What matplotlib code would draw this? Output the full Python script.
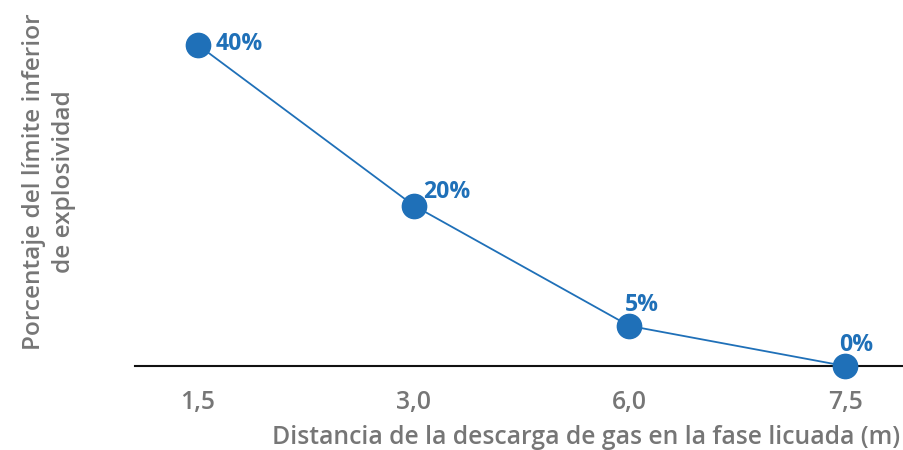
import matplotlib
matplotlib.use("Agg")
import matplotlib.pyplot as plt

categories = ["1,5", "3,0", "6,0", "7,5"]
values = [40, 20, 5, 0]
value_labels = ["40%", "20%", "5%", "0%"]
x_title = "Distancia de la descarga de gas en la fase licuada (m)"
y_title = "Porcentaje del límite inferior\nde explosividad"

plt.rcParams['font.family'] = ['Open Sans', 'DejaVu Sans']

BLUE = "#1f70b8"
GRAY = "#767676"
FS = 17.8

fig = plt.figure(figsize=(9.04, 4.5), dpi=100)
ax = fig.add_axes([135/904, (450-366)/450, (904-135)/904, 366/450])

xs = list(range(len(categories)))
ax.plot(xs, values, color=BLUE, lw=1.3, marker='o', markersize=17.5,
        markerfacecolor=BLUE, markeredgecolor=BLUE, clip_on=False, zorder=3)

offsets = [(13, 0.5, 'left', 'center'), (7, 10, 'left', 'center'),
           (-3, 15, 'left', 'center'), (-4, 15, 'left', 'center')]
for x, v, lab, (dx, dy, ha, va) in zip(xs, values, value_labels, offsets):
    ax.annotate(lab, (x, v), xytext=(dx, dy), textcoords='offset points',
                ha=ha, va=va, color=BLUE, fontsize=16.6, fontweight='bold')

ax.set_xlim(-63/215.67, 3 + 59/215.67)
ax.set_ylim(0, 366/8.025)
ax.set_xticks(xs)
ax.set_xticklabels(categories, color=GRAY, fontsize=FS, fontweight='semibold')
ax.tick_params(axis='x', length=0, pad=17)
ax.set_yticks([])
for s in ['top', 'right', 'left']:
    ax.spines[s].set_visible(False)
ax.spines['bottom'].set_color('#111111')
ax.spines['bottom'].set_linewidth(1.5)
ax.spines['bottom'].set_zorder(1)

fig.text(900/904, 1 - 437/450, x_title, ha='right', va='center',
         color=GRAY, fontsize=FS, fontweight='semibold')
fig.text(49/904, 1 - 182/450, y_title, ha='center', va='center', rotation=90,
         multialignment='center', linespacing=1.3,
         color=GRAY, fontsize=17.6, fontweight='semibold')

fig.savefig("out.png", dpi=100)
